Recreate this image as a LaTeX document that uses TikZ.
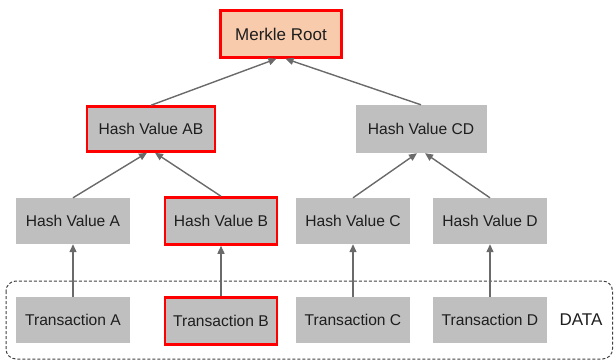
\documentclass[tikz,border=0pt]{standalone}
\usepackage{fontspec}
\setmainfont{Liberation Sans}
\usetikzlibrary{arrows.meta}
\definecolor{boxgray}{HTML}{BFBFBF}
\definecolor{rootpeach}{HTML}{F8CBAD}
\definecolor{linegray}{HTML}{6A6A6A}
\definecolor{txtgray}{HTML}{1E1E1E}
\begin{document}
\begin{tikzpicture}[x=1pt,y=-1pt,
  hashbox/.style={fill=boxgray,text=txtgray,minimum width=114pt,minimum height=46pt,inner sep=0pt,font=\fontsize{15.6}{17}\selectfont},
  redbox/.style={draw=red,line width=2.5pt},
  link/.style={-{Triangle[length=8pt,width=7pt]},draw=linegray,fill=linegray,line width=1.4pt}]
\useasboundingbox (0,0) rectangle (614,360);

% data frame
\draw[dash pattern=on 3pt off 2pt,rounded corners=10pt,draw=black!75,line width=1pt] (6,281) rectangle (612.5,359);

\node[hashbox,redbox,fill=rootpeach,minimum width=121pt,minimum height=47pt,font=\fontsize{17}{19}\selectfont] (root) at (281,34) {Merkle Root};

\node[hashbox,redbox,minimum width=128pt,minimum height=45pt] (ab) at (151,129) {Hash Value AB};
\node[hashbox,minimum width=131pt,minimum height=48pt] (cd) at (421,129) {Hash Value CD};

\node[hashbox] (a) at (73,221) {Hash Value A};
\node[hashbox,redbox,minimum width=112pt,minimum height=47pt] (b) at (221,221) {Hash Value B};
\node[hashbox] (c) at (353,221) {Hash Value C};
\node[hashbox] (d) at (490,221) {Hash Value D};

\node[hashbox] (ta) at (73,320) {Transaction A};
\node[hashbox,redbox,minimum width=112pt,minimum height=47pt] (tb) at (221,321) {Transaction B};
\node[hashbox] (tc) at (353,320) {Transaction C};
\node[hashbox] (td) at (490,320) {Transaction D};
\node[text=txtgray,font=\fontsize{17}{19}\selectfont] (data) at (581,320) {DATA};

\draw[link] (ab.north) -- ([xshift=-4.5pt]root.south);
\draw[link] (cd.north) -- ([xshift=4.5pt]root.south);

\draw[link] (a.north) -- ([xshift=-4pt]ab.south);
\draw[link] (b.north) -- ([xshift=4pt]ab.south);
\draw[link] (c.north) -- ([xshift=-4pt]cd.south);
\draw[link] (d.north) -- ([xshift=4pt]cd.south);

\draw[link] (ta.north) -- (a.south);
\draw[link] (tb.north) -- (b.south);
\draw[link] (tc.north) -- (c.south);
\draw[link] (td.north) -- (d.south);

\end{tikzpicture}
\end{document}
